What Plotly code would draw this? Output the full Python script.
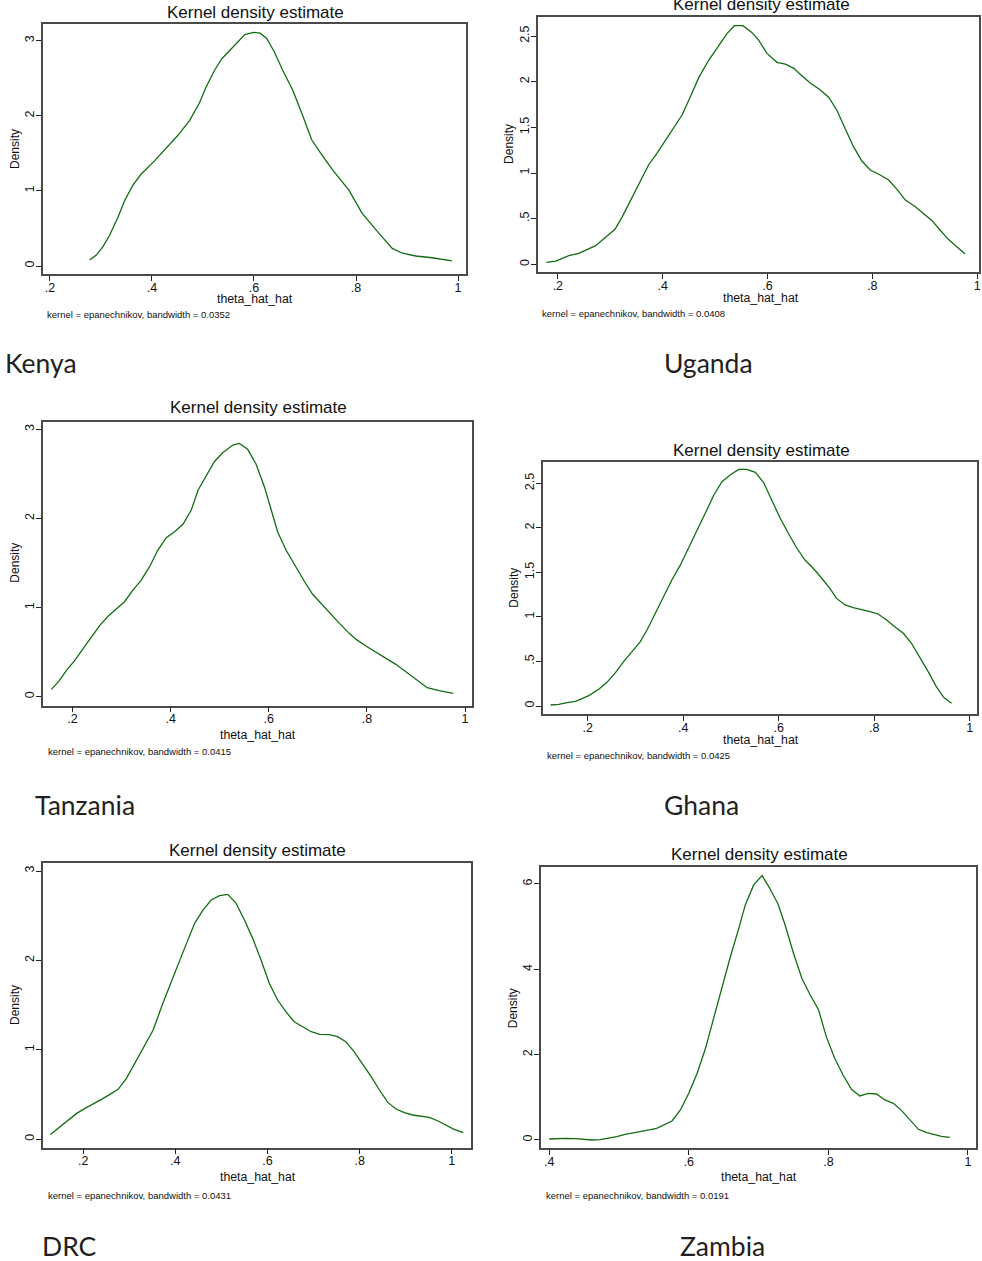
import plotly.graph_objects as go

# ---------------- data ----------------
countries = ["Kenya", "Uganda", "Tanzania", "Ghana", "DRC", "Zambia"]
bandwidths = ["0.0352", "0.0408", "0.0415", "0.0425", "0.0431", "0.0191"]

kenya_x = [0.278, 0.291, 0.304, 0.317, 0.334, 0.347, 0.363, 0.379, 0.405, 0.428, 0.451, 0.474,
           0.493, 0.506, 0.523, 0.537, 0.558, 0.582, 0.599, 0.612, 0.625, 0.640, 0.656, 0.676,
           0.695, 0.713, 0.731, 0.754, 0.786, 0.812, 0.845, 0.871, 0.891, 0.917, 0.949, 0.988]
kenya_y = [0.08, 0.146, 0.257, 0.41, 0.66, 0.88, 1.08, 1.225, 1.40, 1.57, 1.74, 1.94,
           2.17, 2.38, 2.61, 2.76, 2.91, 3.08, 3.11, 3.10, 3.03, 2.85, 2.61, 2.34,
           2.01, 1.68, 1.50, 1.28, 1.01, 0.70, 0.435, 0.235, 0.17, 0.133, 0.11, 0.067]

uganda_x = [0.178, 0.196, 0.221, 0.240, 0.272, 0.291, 0.309, 0.323, 0.342, 0.358, 0.373, 0.389,
            0.402, 0.421, 0.437, 0.450, 0.469, 0.488, 0.507, 0.523, 0.537, 0.553, 0.570, 0.583,
            0.599, 0.618, 0.634, 0.650, 0.666, 0.682, 0.701, 0.717, 0.732, 0.748, 0.764, 0.780,
            0.796, 0.815, 0.831, 0.847, 0.863, 0.882, 0.898, 0.914, 0.929, 0.945, 0.961, 0.977]
uganda_y = [0.022, 0.036, 0.095, 0.12, 0.204, 0.292, 0.383, 0.522, 0.741, 0.927, 1.088, 1.215,
            1.325, 1.489, 1.635, 1.799, 2.047, 2.237, 2.401, 2.529, 2.613, 2.613, 2.540, 2.456,
            2.310, 2.212, 2.193, 2.146, 2.062, 1.982, 1.909, 1.828, 1.690, 1.489, 1.288, 1.131,
            1.033, 0.978, 0.923, 0.821, 0.704, 0.631, 0.558, 0.478, 0.376, 0.274, 0.193, 0.113]

tanzania_x = [0.157, 0.173, 0.188, 0.205, 0.222, 0.239, 0.256, 0.273, 0.289, 0.306, 0.323, 0.340,
              0.357, 0.374, 0.391, 0.408, 0.425, 0.442, 0.456, 0.473, 0.489, 0.506, 0.527, 0.540,
              0.557, 0.574, 0.591, 0.605, 0.618, 0.635, 0.656, 0.673, 0.689, 0.706, 0.723, 0.744,
              0.764, 0.778, 0.798, 0.818, 0.839, 0.859, 0.879, 0.900, 0.923, 0.947, 0.976]
tanzania_y = [0.082, 0.180, 0.299, 0.411, 0.542, 0.673, 0.804, 0.905, 0.980, 1.066, 1.197, 1.309,
              1.459, 1.646, 1.784, 1.852, 1.934, 2.095, 2.319, 2.488, 2.637, 2.738, 2.824, 2.843,
              2.776, 2.611, 2.357, 2.095, 1.852, 1.646, 1.440, 1.290, 1.152, 1.047, 0.954, 0.823,
              0.711, 0.643, 0.569, 0.505, 0.430, 0.363, 0.281, 0.195, 0.101, 0.067, 0.037]

ghana_x = [0.122, 0.139, 0.157, 0.174, 0.188, 0.202, 0.223, 0.240, 0.258, 0.275, 0.293, 0.310,
           0.324, 0.341, 0.359, 0.376, 0.394, 0.411, 0.429, 0.446, 0.464, 0.481, 0.498, 0.516,
           0.533, 0.551, 0.568, 0.585, 0.603, 0.620, 0.638, 0.655, 0.672, 0.690, 0.707, 0.721,
           0.739, 0.756, 0.774, 0.791, 0.808, 0.826, 0.843, 0.861, 0.878, 0.895, 0.913, 0.930,
           0.946, 0.962]
ghana_y = [0.011, 0.019, 0.037, 0.052, 0.082, 0.116, 0.187, 0.266, 0.374, 0.498, 0.614, 0.722,
           0.853, 1.040, 1.228, 1.415, 1.584, 1.771, 1.958, 2.163, 2.369, 2.519, 2.594, 2.657,
           2.657, 2.624, 2.511, 2.313, 2.108, 1.939, 1.771, 1.639, 1.546, 1.434, 1.321, 1.208,
           1.134, 1.104, 1.085, 1.059, 1.033, 0.966, 0.891, 0.816, 0.704, 0.554, 0.386, 0.217,
           0.094, 0.030]

drc_x = [0.129, 0.146, 0.168, 0.186, 0.204, 0.222, 0.240, 0.258, 0.276, 0.294, 0.312, 0.330,
         0.352, 0.373, 0.395, 0.420, 0.442, 0.460, 0.478, 0.496, 0.514, 0.532, 0.550, 0.568,
         0.586, 0.604, 0.622, 0.640, 0.658, 0.677, 0.695, 0.713, 0.734, 0.752, 0.770, 0.788,
         0.806, 0.825, 0.843, 0.861, 0.879, 0.897, 0.915, 0.933, 0.951, 0.969, 0.987, 1.005,
         1.025]
drc_y = [0.052, 0.119, 0.213, 0.287, 0.343, 0.392, 0.444, 0.500, 0.556, 0.679, 0.847, 1.015,
         1.220, 1.519, 1.817, 2.134, 2.414, 2.563, 2.675, 2.724, 2.739, 2.638, 2.451, 2.246,
         2.004, 1.743, 1.556, 1.425, 1.313, 1.257, 1.201, 1.172, 1.168, 1.146, 1.090, 0.978,
         0.847, 0.698, 0.549, 0.410, 0.336, 0.295, 0.269, 0.257, 0.243, 0.205, 0.160, 0.108,
         0.071]

zambia_x = [0.400, 0.411, 0.423, 0.438, 0.450, 0.461, 0.473, 0.485, 0.497, 0.509, 0.521, 0.533,
            0.545, 0.554, 0.564, 0.576, 0.588, 0.600, 0.612, 0.624, 0.635, 0.647, 0.659, 0.671,
            0.681, 0.693, 0.705, 0.716, 0.728, 0.738, 0.750, 0.762, 0.774, 0.786, 0.797, 0.809,
            0.821, 0.833, 0.845, 0.857, 0.869, 0.881, 0.893, 0.905, 0.917, 0.929, 0.941, 0.952,
            0.962, 0.974]
zambia_y = [0.023, 0.031, 0.039, 0.031, 0.016, 0.0, 0.008, 0.039, 0.078, 0.133, 0.164, 0.195,
            0.242, 0.273, 0.344, 0.445, 0.703, 1.094, 1.563, 2.148, 2.813, 3.555, 4.258, 4.922,
            5.508, 5.977, 6.195, 5.898, 5.523, 5.039, 4.375, 3.789, 3.398, 3.047, 2.422, 1.914,
            1.523, 1.188, 1.031, 1.094, 1.078, 0.938, 0.859, 0.688, 0.469, 0.250, 0.172, 0.125,
            0.086, 0.063]

xtick_vals_a = [0.2, 0.4, 0.6, 0.8, 1.0]
xtick_text_a = [".2", ".4", ".6", ".8", "1"]
xtick_vals_z = [0.4, 0.6, 0.8, 1.0]
xtick_text_z = [".4", ".6", ".8", "1"]
ytick_vals_3 = [0, 1, 2, 3]
ytick_text_3 = ["0", "1", "2", "3"]
ytick_vals_25 = [0, 0.5, 1, 1.5, 2, 2.5]
ytick_text_25 = ["0", ".5", "1", "1.5", "2", "2.5"]
ytick_vals_6 = [0, 2, 4, 6]
ytick_text_6 = ["0", "2", "4", "6"]

series_x = [kenya_x, uganda_x, tanzania_x, ghana_x, drc_x, zambia_x]
series_y = [kenya_y, uganda_y, tanzania_y, ghana_y, drc_y, zambia_y]

# ---------------- layout geometry (pixels) ----------------
W, H = 982, 1261
# frame: left, top, right, bottom
frames = [(43, 24, 467, 274), (539.3, 17.3, 980.5, 272), (43.3, 421.7, 473.3, 705.7),
          (544, 462.3, 979.3, 714), (43.3, 862.7, 471.7, 1147.7), (542.3, 867.3, 978.3, 1148.3)]
xranges = [(0.1863, 1.0156), (0.1625, 1.0025), (0.1402, 1.0149),
           (0.1059, 1.0159), (0.1134, 1.0411), (0.3886, 1.0119)]
yranges = [(-0.1065, 3.222), (-0.084, 2.705), (-0.101, 3.086),
           (-0.0898, 2.736), (-0.097, 3.093), (-0.195, 6.39)]
xticks = [(xtick_vals_a, xtick_text_a)] * 5 + [(xtick_vals_z, xtick_text_z)]
yticks = [(ytick_vals_3, ytick_text_3), (ytick_vals_25, ytick_text_25), (ytick_vals_3, ytick_text_3),
          (ytick_vals_25, ytick_text_25), (ytick_vals_3, ytick_text_3), (ytick_vals_6, ytick_text_6)]
# title centre (x,y), xlabel centre (x,y), ylabel centre (x,y), note left (x,y)
title_pos = [(256, 13), (763, 5), (259.3, 407.3), (762.7, 450.7), (258.3, 850), (761, 854.3)]
xlab_pos = [(256, 299), (763, 298), (259, 735), (762.7, 740), (258.3, 1177.3), (761, 1177.3)]
ylab_pos = [(15, 149), (510, 144), (15, 562.7), (515, 587.7), (15, 1005), (514, 1008.3)]
note_pos = [(45, 314), (540.7, 313), (45.7, 751.7), (546, 755), (45.7, 1195.7), (545, 1195.7)]
country_pos = [(3, 363), (663, 363), (33, 805), (663, 805), (40, 1246), (679, 1246)]


def px(x):
    return x / W


def py(y):
    return 1 - y / H


fig = go.Figure()
annotations = []
font_main = "Liberation Sans, Arial, sans-serif"
green = "rgb(18,108,18)"
framec = "#4a4a4a"

for i in range(6):
    n = i + 1
    xa = "xaxis" if n == 1 else f"xaxis{n}"
    ya = "yaxis" if n == 1 else f"yaxis{n}"
    xr = "x" if n == 1 else f"x{n}"
    yr = "y" if n == 1 else f"y{n}"
    L, T, R, B = frames[i]
    fig.add_trace(go.Scatter(x=series_x[i], y=series_y[i], mode="lines",
                             line=dict(color=green, width=1.3), xaxis=xr, yaxis=yr,
                             showlegend=False, hoverinfo="x+y"))
    fig.layout[xa] = dict(domain=[px(L), px(R)], range=list(xranges[i]), anchor=yr,
                          tickvals=xticks[i][0], ticktext=xticks[i][1], ticks="outside",
                          ticklen=5, tickwidth=1, tickcolor="#222", showgrid=False, zeroline=False,
                          showline=True, mirror=True, linecolor=framec, linewidth=1.5,
                          ticklabeloverflow="allow", ticklabelstandoff=-4,
                          tickfont=dict(family=font_main, size=12.5, color="#111"))
    fig.layout[ya] = dict(domain=[py(B), py(T)], range=list(yranges[i]), anchor=xr,
                          tickvals=yticks[i][0], ticktext=yticks[i][1], ticks="outside",
                          ticklen=5, tickwidth=1, tickcolor="#222", showgrid=False, zeroline=False,
                          showline=True, mirror=True, linecolor=framec, linewidth=1.5,
                          tickangle=-90, ticklabelstandoff=-3,
                          tickfont=dict(family=font_main, size=12.5, color="#111"))
    annotations.append(dict(text="Kernel density estimate", x=px(title_pos[i][0]), y=py(title_pos[i][1]),
                            xref="paper", yref="paper", showarrow=False, xanchor="center", yanchor="middle",
                            font=dict(family=font_main, size=17, color="#111")))
    annotations.append(dict(text="theta_hat_hat", x=px(xlab_pos[i][0]), y=py(xlab_pos[i][1]),
                            xref="paper", yref="paper", showarrow=False, xanchor="center", yanchor="middle",
                            font=dict(family=font_main, size=12.3, color="#111")))
    annotations.append(dict(text="Density", x=px(ylab_pos[i][0]), y=py(ylab_pos[i][1]),
                            xref="paper", yref="paper", showarrow=False, xanchor="center", yanchor="middle",
                            textangle=-90, font=dict(family=font_main, size=12, color="#111")))
    annotations.append(dict(text=f"kernel = epanechnikov, bandwidth = {bandwidths[i]}",
                            x=px(note_pos[i][0]), y=py(note_pos[i][1]),
                            xref="paper", yref="paper", showarrow=False, xanchor="left", yanchor="middle",
                            font=dict(family=font_main, size=9.5, color="#111")))
    annotations.append(dict(text=countries[i], x=px(country_pos[i][0]), y=py(country_pos[i][1]),
                            xref="paper", yref="paper", showarrow=False, xanchor="left", yanchor="middle",
                            font=dict(family="Lato, Open Sans, sans-serif", size=26.5, color="#231f20")))

fig.update_layout(width=W, height=H, margin=dict(l=0, r=0, t=0, b=0),
                  paper_bgcolor="white", plot_bgcolor="white", annotations=annotations,
                  showlegend=False)

fig.write_html("out.html")
